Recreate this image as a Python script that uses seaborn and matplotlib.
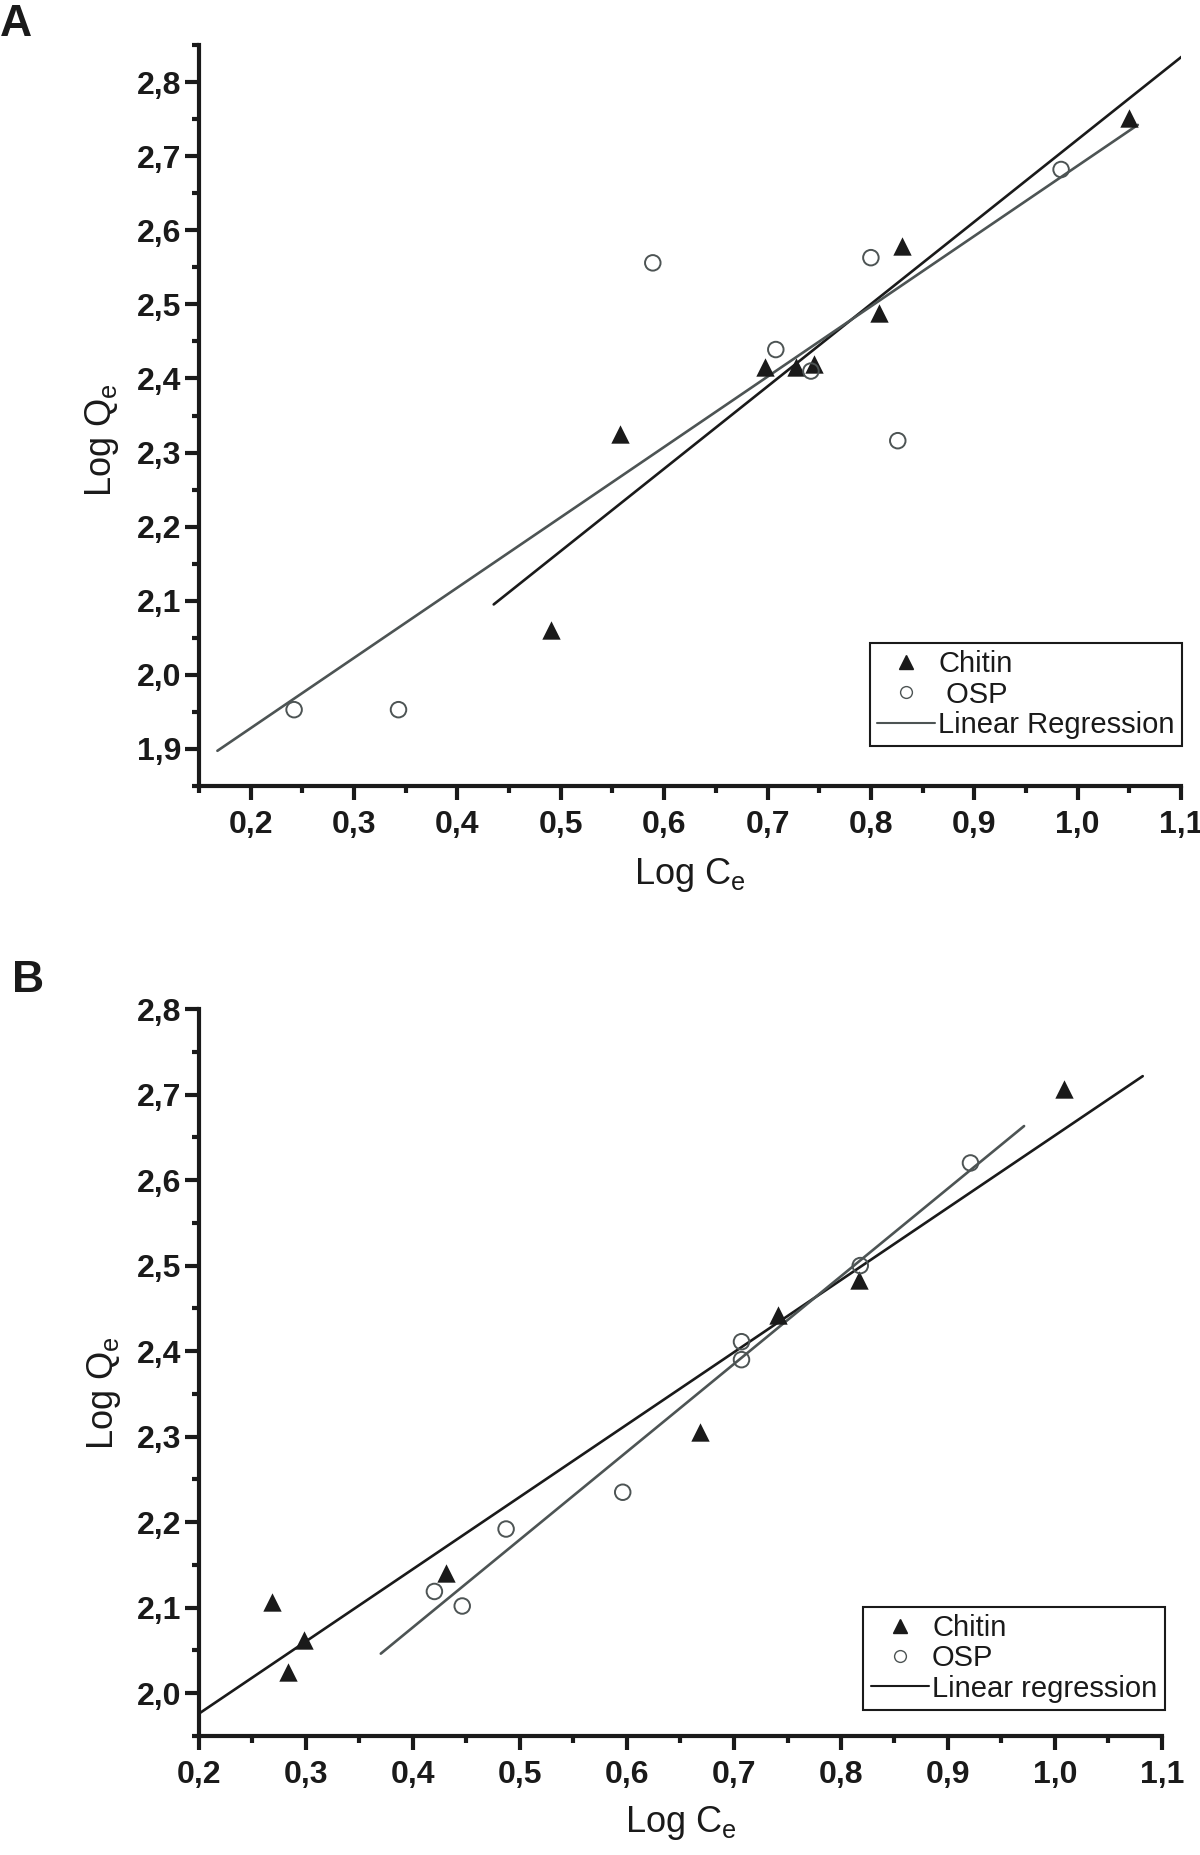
"""
Freundlich isotherm plots (Log Qe vs Log Ce) for Chitin and OSP,
two panels (A, B) with linear regression lines.
"""

import numpy as np
import pandas as pd
import matplotlib
matplotlib.use('Agg')
import matplotlib.pyplot as plt
import seaborn as sns
from matplotlib import font_manager
from matplotlib.ticker import MultipleLocator, FuncFormatter
from matplotlib.lines import Line2D

# Panel A data
chitin_a_x = [0.491, 0.557, 0.698, 0.728, 0.745, 0.808, 0.830, 1.050]
chitin_a_y = [2.061, 2.325, 2.415, 2.415, 2.420, 2.488, 2.579, 2.752]
osp_a_x = [0.242, 0.343, 0.589, 0.708, 0.742, 0.800, 0.826, 0.984]
osp_a_y = [1.953, 1.953, 2.556, 2.439, 2.410, 2.563, 2.316, 2.682]

# Panel B data
chitin_b_x = [0.268, 0.283, 0.298, 0.431, 0.668, 0.741, 0.817, 1.008]
chitin_b_y = [2.107, 2.025, 2.062, 2.140, 2.306, 2.442, 2.483, 2.707]
osp_b_x = [0.420, 0.446, 0.487, 0.596, 0.707, 0.707, 0.818, 0.921]
osp_b_y = [2.119, 2.102, 2.192, 2.235, 2.411, 2.390, 2.500, 2.620]

x_label = 'Log C$_\\mathregular{e}$'
y_label = 'Log Q$_\\mathregular{e}$'
legend_a = ['Chitin', ' OSP', 'Linear Regression']
legend_b = ['Chitin', 'OSP', 'Linear regression']

BLACK = '#1a1a1a'
GRAY = '#4d5454'

sns.set_style('ticks')
plt.rcParams['font.family'] = ['Liberation Sans', 'DejaVu Sans']
plt.rcParams['mathtext.default'] = 'regular'

# the axis titles in the original are set in a condensed face
installed = {f.name for f in font_manager.fontManager.ttflist}
if 'Liberation Sans Narrow' in installed:
    label_family, label_size = ['Liberation Sans Narrow', 'DejaVu Sans'], 30
else:
    label_family, label_size = ['Liberation Sans', 'DejaVu Sans'], 26


def comma_fmt(v, pos):
    return f"{v:.1f}".replace('.', ',')


def fit_line(ax, x, y, color):
    # linear regression, drawn 10% past the data range on both sides
    x = np.asarray(x)
    slope, icept = np.polyfit(x, y, 1)
    span = x.max() - x.min()
    xs = np.array([x.min() - 0.1 * span, x.max() + 0.1 * span])
    sns.lineplot(x=xs, y=slope * xs + icept, ax=ax, color=color, lw=1.9)


def draw_panel(ax, cx, cy, ox, oy, xlim, ylim, labels, leg_line_color, anchor, ylab_y):
    chitin = pd.DataFrame({'x': cx, 'y': cy})
    osp = pd.DataFrame({'x': ox, 'y': oy})

    sns.scatterplot(data=chitin, x='x', y='y', ax=ax, marker='^', s=175,
                    color=BLACK, linewidth=0, zorder=3)
    sns.scatterplot(data=osp, x='x', y='y', ax=ax, marker='o', s=125,
                    color=GRAY, facecolor='none', edgecolor=GRAY,
                    linewidth=1.4, zorder=3)
    fit_line(ax, cx, cy, BLACK)
    fit_line(ax, ox, oy, GRAY)

    ax.set_xlim(*xlim)
    ax.set_ylim(*ylim)
    ax.xaxis.set_major_locator(MultipleLocator(0.1))
    ax.xaxis.set_minor_locator(MultipleLocator(0.05))
    ax.yaxis.set_major_locator(MultipleLocator(0.1))
    ax.yaxis.set_minor_locator(MultipleLocator(0.05))
    ax.xaxis.set_major_formatter(FuncFormatter(comma_fmt))
    ax.yaxis.set_major_formatter(FuncFormatter(comma_fmt))

    sns.despine(ax=ax)
    for side in ['left', 'bottom']:
        ax.spines[side].set_linewidth(3)
        ax.spines[side].set_color(BLACK)
    ax.tick_params(which='major', length=10, width=3, color=BLACK,
                   labelsize=23, labelcolor=BLACK)
    ax.tick_params(which='minor', length=5, width=3, color=BLACK)
    ax.tick_params(axis='x', which='major', pad=7)
    ax.tick_params(axis='y', which='major', pad=3)
    for lab in ax.get_xticklabels() + ax.get_yticklabels():
        lab.set_fontweight('bold')

    ax.set_xlabel(x_label, fontsize=label_size, family=label_family,
                  color=BLACK, va='top')
    ax.set_ylabel(y_label, fontsize=label_size, family=label_family,
                  color=BLACK)
    ax.xaxis.set_label_coords(0.5, -0.094)
    ax.yaxis.set_label_coords(-0.079, ylab_y)

    handles = [
        Line2D([], [], marker='^', color=BLACK, linestyle='none', markersize=10),
        Line2D([], [], marker='o', markerfacecolor='none', markeredgecolor=GRAY,
               markeredgewidth=1.0, linestyle='none', markersize=8.5),
        Line2D([], [], color=leg_line_color, lw=1.5),
    ]
    leg = ax.legend(handles, labels, loc='upper left', bbox_to_anchor=anchor,
                    borderaxespad=0, fontsize=21, handlelength=2.0,
                    handletextpad=0.1, labelspacing=0.08, borderpad=0.25,
                    fancybox=False, framealpha=1)
    leg.get_frame().set_edgecolor(BLACK)
    leg.get_frame().set_linewidth(1.5)
    for t in leg.get_texts():
        t.set_color(BLACK)


fig = plt.figure(figsize=(12, 18.55), dpi=100)
W, H = 1200, 1855
ax_a = fig.add_axes([199 / W, 1 - 786 / H, (1181 - 199) / W, (786 - 45) / H])
ax_b = fig.add_axes([199 / W, 1 - 1736 / H, (1162 - 199) / W, (1736 - 1009) / H])

draw_panel(ax_a, chitin_a_x, chitin_a_y, osp_a_x, osp_a_y,
           (0.15, 1.1), (1.85, 2.85), legend_a, GRAY, (0.683, 0.193), 0.467)
draw_panel(ax_b, chitin_b_x, chitin_b_y, osp_b_x, osp_b_y,
           (0.2, 1.1), (1.95, 2.8), legend_b, BLACK, (0.69, 0.178), 0.472)

fig.text(0.0, 1 - 4 / H, 'A', fontsize=32, fontweight='bold', color=BLACK,
         ha='left', va='top')
fig.text(12 / W, 1 - 960 / H, 'B', fontsize=32, fontweight='bold', color=BLACK,
         ha='left', va='top')

fig.savefig('out.png', dpi=100)
plt.close(fig)
